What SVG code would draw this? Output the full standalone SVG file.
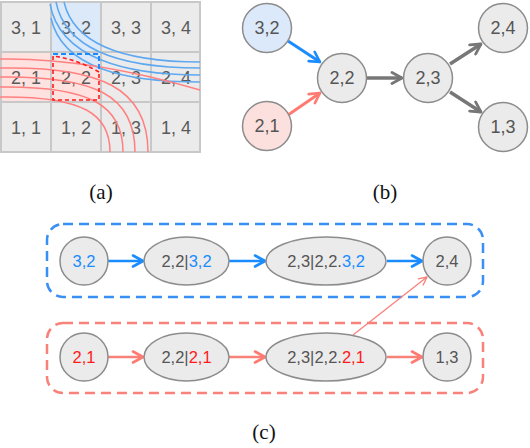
<svg xmlns="http://www.w3.org/2000/svg" width="530" height="448" viewBox="0 0 530 448">
<defs>
<style>
.cell{fill:#ebebeb}
.grid{fill:none;stroke:#c8c8c8;stroke-width:2}
.ct{font-family:"Liberation Sans",Arial,sans-serif;font-size:18px;fill:#5a5a5a;text-anchor:middle}
.bl{fill:none;stroke:#5ea8f0;stroke-width:1.5}
.rl{fill:none;stroke:#ff8080;stroke-width:1.5}
.node{fill:#ebebeb;stroke:#8c8c8c;stroke-width:1.5}
.nt{font-family:"Liberation Sans",Arial,sans-serif;font-size:18px;fill:#555;text-anchor:middle}
.nt2{font-family:"Liberation Sans",Arial,sans-serif;font-size:16.5px;fill:#555;text-anchor:middle}
.cap{font-family:"Liberation Serif","Times New Roman",serif;font-size:21px;fill:#111;text-anchor:middle}
.eb{fill:none;stroke:#1a8cff;stroke-width:3}
.er{fill:none;stroke:#ff7b72;stroke-width:3}
.eg{fill:none;stroke:#777;stroke-width:3.5}
.cb{fill:none;stroke:#1a8cff;stroke-width:2.5}
.cr{fill:none;stroke:#f8817a;stroke-width:2.5}
</style>
<marker id="mb" viewBox="0 0 14 14" refX="12" refY="7" markerWidth="14" markerHeight="14" markerUnits="userSpaceOnUse" orient="auto">
<path d="M2,1.5 L12,7 L2,12.5" fill="none" stroke="#1a8cff" stroke-width="2.6" stroke-linecap="round" stroke-linejoin="round"/>
</marker>
<marker id="mr" viewBox="0 0 14 14" refX="12" refY="7" markerWidth="14" markerHeight="14" markerUnits="userSpaceOnUse" orient="auto">
<path d="M2,1.5 L12,7 L2,12.5" fill="none" stroke="#ff7b72" stroke-width="2.6" stroke-linecap="round" stroke-linejoin="round"/>
</marker>
<marker id="mg" viewBox="0 0 14 14" refX="12" refY="7" markerWidth="14" markerHeight="14" markerUnits="userSpaceOnUse" orient="auto">
<path d="M2,1.5 L12,7 L2,12.5" fill="none" stroke="#777" stroke-width="2.8" stroke-linecap="round" stroke-linejoin="round"/>
</marker>
<marker id="mrt" viewBox="0 0 10 10" refX="9" refY="5" markerWidth="10" markerHeight="10" markerUnits="userSpaceOnUse" orient="auto">
<path d="M1,1 L9,5 L1,9" fill="none" stroke="#f8817a" stroke-width="1.3" stroke-linecap="round" stroke-linejoin="round"/>
</marker>
</defs>
<rect width="530" height="448" fill="#ffffff"/>

<g id="grid-a">
<rect class="cell" x="1" y="2" width="199" height="150"/>
<rect x="51" y="2" width="50" height="50" fill="#dbe9f9"/>
<rect x="1" y="52" width="100" height="50" fill="#fde2e0"/>
<path d="M52,53 L100,53 L100,71 Q76,58 52,56 Z" fill="#dce8f8"/>
<path class="grid" d="M1,2 H200 V152 H1 Z M51,2 V152 M101,2 V152 M151,2 V152 M1,52 H200 M1,102 H200"/>
<text class="ct" x="26" y="34">3, 1</text>
<text class="ct" x="76" y="34">3, 2</text>
<text class="ct" x="126" y="34">3, 3</text>
<text class="ct" x="176" y="34">3, 4</text>
<text class="ct" x="26" y="84">2, 1</text>
<text class="ct" x="76" y="84">2, 2</text>
<text class="ct" x="126" y="84">2, 3</text>
<text class="ct" x="176" y="84">2, 4</text>
<text class="ct" x="26" y="134">1, 1</text>
<text class="ct" x="76" y="134">1, 2</text>
<text class="ct" x="126" y="134">1, 3</text>
<text class="ct" x="176" y="134">1, 4</text>
<path class="bl" d="M64,2 C74,45 125,62 200,62"/>
<path class="bl" d="M56,2 C66,52 125,68 200,68"/>
<path class="bl" d="M50,4 C60,58 125,75 200,75"/>
<path class="bl" d="M51,18 C62,68 125,82 200,82"/>
<path class="rl" d="M0,59 C60,58 125,68 200,90"/>
<path class="rl" d="M0,68 C100,66 148,88 148,152"/>
<path class="rl" d="M0,77 C95,76 135,95 135,152"/>
<path class="rl" d="M0,87 C90,86 123,105 123,152"/>
<path class="rl" d="M0,97 C85,96 110,115 110,152"/>
<path d="M53,54 H99 V71" fill="none" stroke="#1a8cff" stroke-width="2" stroke-dasharray="5,3"/>
<path d="M99,72 Q76,59 53,56 V100 H99 Z" fill="none" stroke="#ff1a1a" stroke-width="1.6" stroke-dasharray="4,3"/>
</g>

<g id="edges-b">
<line class="eb" x1="288" y1="41" x2="320" y2="62" marker-end="url(#mb)"/>
<line class="er" x1="288" y1="115" x2="320" y2="93" marker-end="url(#mr)"/>
<line class="eg" x1="367" y1="78" x2="402" y2="78" marker-end="url(#mg)"/>
<line class="eg" x1="450" y1="64" x2="481" y2="44" marker-end="url(#mg)"/>
<line class="eg" x1="450" y1="92" x2="481" y2="112" marker-end="url(#mg)"/>
</g>
<g id="b-32"><circle class="node" cx="267" cy="28" r="24.5" style="fill:#dce9fa"/><text class="nt" x="267" y="34">3,2</text></g>
<g id="b-21"><circle class="node" cx="267" cy="126" r="24.5" style="fill:#fce0de"/><text class="nt" x="267" y="132">2,1</text></g>
<g id="b-22"><circle class="node" cx="342" cy="78" r="24.5"/><text class="nt" x="342" y="84">2,2</text></g>
<g id="b-23"><circle class="node" cx="428" cy="78" r="24.5"/><text class="nt" x="428" y="84">2,3</text></g>
<g id="b-24"><circle class="node" cx="503" cy="28" r="24.5"/><text class="nt" x="503" y="34">2,4</text></g>
<g id="b-13"><circle class="node" cx="503" cy="127" r="24.5"/><text class="nt" x="503" y="133">1,3</text></g>

<g id="captions">
<text class="cap" x="101" y="199">(a)</text>
<text class="cap" x="385" y="199">(b)</text>
<text class="cap" x="264" y="439">(c)</text>
</g>

<g id="group-blue"><rect x="47" y="224" width="436" height="73" rx="16" fill="none" stroke="#3a8ff5" stroke-width="2.5" stroke-dasharray="10,6"/></g>
<g id="group-red"><rect x="47" y="323" width="436" height="70" rx="16" fill="none" stroke="#f8817a" stroke-width="2.5" stroke-dasharray="10,6"/></g>

<g id="edges-c">
<line class="cb" x1="108" y1="261" x2="143" y2="261" marker-end="url(#mb)"/>
<line class="cb" x1="229" y1="261" x2="265" y2="261" marker-end="url(#mb)"/>
<line class="cb" x1="387" y1="261" x2="422" y2="261" marker-end="url(#mb)"/>
<line class="cr" x1="108" y1="357" x2="143" y2="357" marker-end="url(#mr)"/>
<line class="cr" x1="229" y1="357" x2="265" y2="357" marker-end="url(#mr)"/>
<line class="cr" x1="387" y1="357" x2="422" y2="357" marker-end="url(#mr)"/>
<line x1="353" y1="335" x2="427" y2="277" stroke="#f8817a" stroke-width="1.3" marker-end="url(#mrt)"/>
</g>

<g id="c-32"><circle class="node" cx="84" cy="261" r="24"/><text class="nt2" x="84" y="267" style="fill:#1a8cff">3,2</text></g>
<g id="c-22-32"><ellipse class="node" cx="186.5" cy="261" rx="42.5" ry="24"/><text class="nt2" x="186.5" y="267">2,2|<tspan style="fill:#1a8cff">3,2</tspan></text></g>
<g id="c-23-22-32"><ellipse class="node" cx="326" cy="261" rx="60" ry="24"/><text class="nt2" x="326" y="267">2,3|2,2.<tspan style="fill:#1a8cff">3,2</tspan></text></g>
<g id="c-24"><circle class="node" cx="447" cy="261" r="24"/><text class="nt2" x="447" y="267">2,4</text></g>

<g id="c-21"><circle class="node" cx="84" cy="357" r="24"/><text class="nt2" x="84" y="363" style="fill:#ff1a1a">2,1</text></g>
<g id="c-22-21"><ellipse class="node" cx="186.5" cy="357" rx="42.5" ry="24"/><text class="nt2" x="186.5" y="363">2,2|<tspan style="fill:#ff1a1a">2,1</tspan></text></g>
<g id="c-23-22-21"><ellipse class="node" cx="326" cy="357" rx="60" ry="24"/><text class="nt2" x="326" y="363">2,3|2,2.<tspan style="fill:#ff1a1a">2,1</tspan></text></g>
<g id="c-13"><circle class="node" cx="447" cy="357" r="24"/><text class="nt2" x="447" y="363">1,3</text></g>
</svg>
